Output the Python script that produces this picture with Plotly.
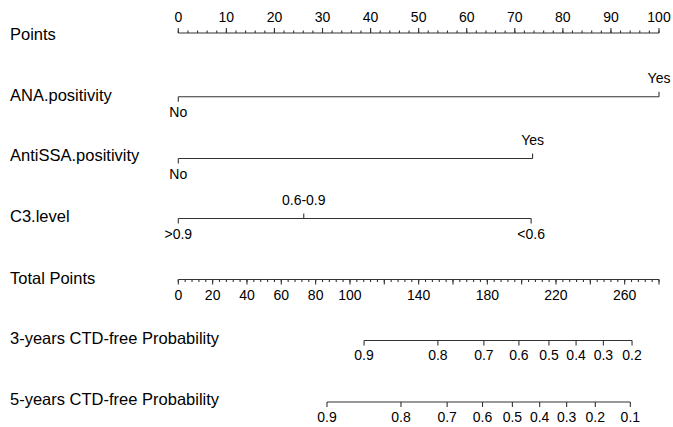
import plotly.graph_objects as go

# ---------------- data ----------------
row_labels = ["Points", "ANA.positivity", "AntiSSA.positivity", "C3.level",
              "Total Points", "3-years CTD-free Probability", "5-years CTD-free Probability"]

points_major = list(range(0, 101, 10))
points_minor = list(range(0, 101, 2))

ana_levels = ["No", "Yes"]
ana_points = [0, 100]

antissa_levels = ["No", "Yes"]
antissa_points = [0, 73.7]

c3_levels = [">0.9", "0.6-0.9", "<0.6"]
c3_points = [0, 26.1, 73.4]

total_max = 280
total_major = list(range(0, 281, 20))
total_minor = list(range(0, 281, 4))
total_labels = [0, 20, 40, 60, 80, 100, 140, 180, 220, 260]

prob3_labels = ["0.9", "0.8", "0.7", "0.6", "0.5", "0.4", "0.3", "0.2"]
prob3_total = [108.2, 151.2, 178.0, 198.4, 215.9, 231.7, 247.6, 264.3]

prob5_labels = ["0.9", "0.8", "0.7", "0.6", "0.5", "0.4", "0.3", "0.2", "0.1"]
prob5_total = [86.6, 129.7, 156.6, 177.2, 194.6, 210.5, 226.2, 242.9, 263.3]

# ---------------- layout constants ----------------
W, H = 673, 427
X0_PX, X100_PX = 178.3, 659.0
scale = (X100_PX - X0_PX) / 100.0
xmin = -X0_PX / scale
xmax = xmin + W / scale

row_y = [35.5, 96.7, 157.0, 218.0, 279.5, 340.0, 400.5]
line_y = [33.0, 96.7, 158.5, 218.5, 279.5, 340.5, 402.0]

LINE = "#333333"
TXT = "#000000"
FONT = "Liberation Sans, Arial, sans-serif"
TICK_FS = 14
LAB_FS = 16.5

def tp(v):
    """total points -> points scale"""
    return v * 100.0 / total_max

fig = go.Figure()

def add_line(xs, ys):
    fig.add_trace(go.Scatter(x=xs, y=ys, mode="lines",
                             line=dict(color=LINE, width=1.1),
                             hoverinfo="skip", showlegend=False))

def add_text(xs, ys, texts, pos="middle center", size=TICK_FS):
    fig.add_trace(go.Scatter(x=xs, y=ys, mode="text", text=texts,
                             textposition=pos,
                             textfont=dict(family=FONT, size=size, color=TXT),
                             hoverinfo="skip", showlegend=False, cliponaxis=False))

def ticks(xvals, y0, length):
    xs, ys = [], []
    for v in xvals:
        xs += [v, v, None]
        ys += [y0, y0 + length, None]
    return xs, ys

# Points axis (ticks up, labels above)
y = line_y[0]
xs, ys = ticks(points_minor, y, -2.5)
xs2, ys2 = ticks(points_major, y, -5)
add_line([0, 100] + [None] + xs + xs2, [y, y] + [None] + ys + ys2)
add_text(points_major, [y - 15] * len(points_major), [str(v) for v in points_major])

# Categorical rows
def cat_row(levels, pts, y, updown):
    xs, ys = [min(pts), max(pts), None], [y, y, None]
    for p, d in zip(pts, updown):
        xs += [p, p, None]
        ys += [y, y + d * 5, None]
    add_line(xs, ys)
    for lvl, p, d in zip(levels, pts, updown):
        add_text([p], [y + d * 17], [lvl])

cat_row(ana_levels, ana_points, line_y[1], [1, -1])
cat_row(antissa_levels, antissa_points, line_y[2], [1, -1])
cat_row(c3_levels, c3_points, line_y[3], [1, -1, 1])

# Total points axis (ticks down, labels below)
y = line_y[4]
xs, ys = ticks([tp(v) for v in total_minor], y, 2.5)
xs2, ys2 = ticks([tp(v) for v in total_major], y, 5)
add_line([0, tp(total_max)] + [None] + xs + xs2, [y, y] + [None] + ys + ys2)
add_text([tp(v) for v in total_labels], [y + 17] * len(total_labels), [str(v) for v in total_labels])

# Probability axes
def prob_row(labels, totals, y):
    pos = [tp(v) for v in totals]
    xs, ys = ticks(pos, y, 5)
    add_line([min(pos), max(pos), None] + xs, [y, y, None] + ys)
    add_text(pos, [y + 16] * len(pos), labels)

prob_row(prob3_labels, prob3_total, line_y[5])
prob_row(prob5_labels, prob5_total, line_y[6])

# Row labels
lx = xmin + 10 / scale
add_text([lx] * len(row_labels), row_y, row_labels, pos="middle right", size=LAB_FS)

fig.update_layout(
    width=W, height=H,
    margin=dict(l=0, r=0, t=0, b=0),
    paper_bgcolor="white", plot_bgcolor="white",
    xaxis=dict(range=[xmin, xmax], visible=False, fixedrange=True),
    yaxis=dict(range=[H, 0], visible=False, fixedrange=True),
    showlegend=False,
)

fig.write_html("out.html",
               config={"displayModeBar": False},
               post_script="document.body.style.margin='0';document.body.style.overflow='hidden';")
